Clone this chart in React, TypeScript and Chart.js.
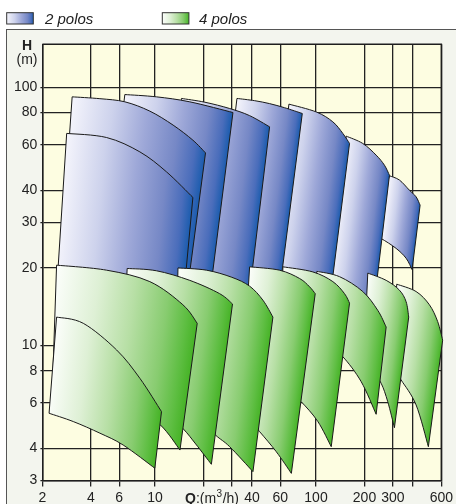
import { useEffect, useRef } from 'react';
import { Chart, registerables } from 'chart.js';

Chart.register(...registerables);

type Pt = [number, number];

const FONT = '"Liberation Sans", Arial, Helvetica, sans-serif';

const xTickValues = [2, 4, 6, 10, 20, 30, 40, 60, 100, 200, 300, 400, 600];
const xTickLabels = [2, 4, 6, 10, 40, 60, 100, 200, 300, 600];
const yTickValues = [3, 4, 6, 8, 10, 20, 30, 40, 60, 80, 100];
const legendLabels = ['2 polos', '4 polos'];
const axisTitleY = ['H', '(m)'];

// 2 polos: upper (max impeller) curves, Q (m3/h), H (m)
const twoPoleTop: Pt[][] = [
  [[2.83, 66.4], [5.01, 64.0], [8.06, 56.3], [11.8, 47.1], [17.2, 37.5]],
  [[3.06, 92.0], [4.55, 90.5], [6.5, 88.0], [9.29, 81.0], [12.96, 71.5], [17.2, 62.5], [20.6, 55.8]],
  [[6.5, 93.9], [10.2, 92.0], [16.45, 88.0], [30.5, 80.0]],
  [[14.6, 90.7], [20.4, 87.7], [29.1, 82.9], [38.7, 77.8], [51.5, 70.4]],
  [[32.3, 90.7], [41.6, 88.9], [51.5, 86.6], [63.8, 83.5], [82.2, 79.3]],
  [[67.9, 86.2], [100.4, 80.4], [127.2, 73.6], [146.7, 66.4], [161.5, 60.7]],
  [[154, 64.8], [195.2, 60.7], [236.3, 54.7], [266.1, 50.0], [285.8, 45.7]],
  [[285.8, 45.5], [329.6, 43.8], [380.2, 40.0], [418.4, 37.7], [443, 35.0]],
];
// 2 polos: lower curves (right to left)
const twoPoleBottom: Pt[][] = [
  [[15.0, 15.0], [2.43, 15.0]],
  [[15.6, 15.0], [2.5, 15.0]],
  [[21.7, 15.0], [4.57, 15.0]],
  [[38.2, 15.0], [10.3, 15.0]],
  [[58.4, 15.0], [22.9, 15.0]],
  [[121.9, 15.0], [48.5, 15.0]],
  [[231.0, 15.0], [116.3, 15.0]],
  [[395.2, 19.7], [362.6, 21.8], [314.5, 23.8], [253.8, 26.0], [221.0, 27.0]],
];

// 4 polos: upper curves
const fourPoleTop: Pt[][] = [
  [[2.45, 12.9], [3.59, 12.2], [5.78, 9.62], [8.06, 7.47], [10.98, 5.55]],
  [[2.45, 20.5], [5.01, 19.6], [9.29, 17.7], [14.9, 14.4], [18.3, 12.2]],
  [[6.72, 19.9], [10.2, 19.5], [16.45, 17.9], [25.2, 15.9], [30.3, 14.5]],
  [[13.9, 20.0], [20.9, 19.6], [30.0, 18.4], [38.7, 17.0], [46.8, 15.0], [54.0, 12.9]],
  [[38.7, 20.2], [59.4, 19.6], [79.1, 18.2], [91.2, 16.9], [98.9, 15.9]],
  [[62.3, 20.2], [95.6, 19.3], [127.2, 17.7], [150.3, 15.9], [161.5, 14.6]],
  [[101.2, 19.4], [140, 18.5], [195.2, 16.2], [241.8, 13.7], [272.7, 11.8]],
  [[209.7, 19.1], [272.7, 17.9], [329.6, 16.4], [362.6, 14.8], [376.4, 12.9]],
  [[317.2, 17.3], [418.4, 16.2], [505.8, 14.4], [569.3, 12.4], [611.5, 10.5]],
];
// 4 polos: lower curves (right to left)
const fourPoleBottom: Pt[][] = [
  [[9.98, 3.35], [6.35, 4.12], [4.55, 4.58], [3.11, 5.08], [2.2, 5.47]],
  [[14.3, 3.94], [10.8, 4.93], [6.98, 6.0], [3.95, 7.16], [2.33, 8.19]],
  [[22.4, 3.47], [17.9, 4.16], [14.9, 4.78], [10.7, 5.89], [6.23, 7.04]],
  [[40.6, 3.25], [29.1, 4.06], [23.7, 4.51], [17.7, 5.38], [13.3, 6.16]],
  [[70.3, 3.2], [56.7, 3.88], [44.7, 4.64], [37.6, 5.24], [34.1, 5.53]],
  [[124.3, 4.06], [102.7, 5.08], [81.0, 6.06], [68.5, 6.61], [58.6, 6.98]],
  [[236.3, 5.42], [190.8, 7.25], [146.7, 9.06], [117.9, 10.05], [95.2, 10.5]],
  [[306.9, 4.81], [279.0, 6.06], [253.8, 7.15], [224.2, 7.97], [197.2, 8.41]],
  [[498.6, 4.06], [418.4, 5.89], [337.7, 7.36], [298.3, 8.19]],
];

const blueStops: [number, string][] = [
  [0, '#f5f5fc'], [0.3, '#cdd2ec'], [0.55, '#9ea8d8'], [0.78, '#7688c6'], [0.92, '#4a6dbb'], [1, '#1a5cae'],
];
const greenStops: [number, string][] = [
  [0, '#fcfefb'], [0.3, '#def0d5'], [0.55, '#b7dfa5'], [0.78, '#88cc70'], [0.92, '#5ebe42'], [1, '#46b326'],
];

function spline(ctx: CanvasRenderingContext2D, pts: number[][], moveFirst: boolean) {
  const n = pts.length;
  if (moveFirst) ctx.moveTo(pts[0][0], pts[0][1]);
  else ctx.lineTo(pts[0][0], pts[0][1]);
  for (let i = 0; i < n - 1; i++) {
    const p0 = pts[Math.max(i - 1, 0)];
    const p1 = pts[i];
    const p2 = pts[i + 1];
    const p3 = pts[Math.min(i + 2, n - 1)];
    ctx.bezierCurveTo(
      p1[0] + (p2[0] - p0[0]) / 6,
      p1[1] + (p2[1] - p0[1]) / 6,
      p2[0] - (p3[0] - p1[0]) / 6,
      p2[1] - (p3[1] - p1[1]) / 6,
      p2[0],
      p2[1]
    );
  }
}

const pumpPlugin = {
  id: 'pumpShapes',
  beforeDraw(chart: any) {
    const { ctx, chartArea: a } = chart;
    ctx.save();
    ctx.fillStyle = '#fdfde1';
    ctx.fillRect(a.left, a.top, a.right - a.left, a.bottom - a.top);
    ctx.restore();
  },
  beforeDatasetsDraw(chart: any) {
    const { ctx, chartArea: a } = chart;
    ctx.save();
    ctx.strokeStyle = '#1e1e1e';
    ctx.lineWidth = 1.5;
    ctx.beginPath();
    ctx.moveTo(a.left, a.top);
    ctx.lineTo(a.right, a.top);
    ctx.lineTo(a.right, a.bottom);
    ctx.stroke();
    ctx.restore();
  },
  afterDatasetsDraw(chart: any) {
    const { ctx } = chart;
    const xs = chart.scales.x;
    const ys = chart.scales.y;
    const toPx = (p: Pt) => [xs.getPixelForValue(p[0]), ys.getPixelForValue(p[1])];
    const drawFamily = (tops: Pt[][], bottoms: Pt[][], stops: [number, string][]) => {
      for (let i = tops.length - 1; i >= 0; i--) {
        const top = tops[i].map(toPx);
        const bot = bottoms[i].map(toPx);
        const lt = top[0];
        const rt = top[top.length - 1];
        const rb = bot[0];
        // slant of the right edge: colour stays constant along lines parallel to it
        const k = (rb[0] - rt[0]) / (rb[1] - rt[1]);
        const y0 = rt[1];
        const gx0 = lt[0] - k * (lt[1] - y0);
        const gx1 = rt[0];
        const base = ctx.getTransform();
        ctx.save();
        ctx.beginPath();
        spline(ctx, top, true);
        spline(ctx, bot, false);
        ctx.closePath();
        const g = ctx.createLinearGradient(gx0, 0, gx1, 0);
        stops.forEach(([o, c]) => g.addColorStop(o, c));
        ctx.setTransform(base.multiply(new DOMMatrix([1, 0, k, 1, -k * y0, 0])));
        ctx.fillStyle = g;
        ctx.fill();
        ctx.setTransform(base);
        ctx.lineWidth = 1;
        ctx.lineJoin = 'miter';
        ctx.strokeStyle = '#1a1a1a';
        ctx.stroke();
        ctx.restore();
      }
    };
    drawFamily(twoPoleTop, twoPoleBottom, blueStops);
    drawFamily(fourPoleTop, fourPoleBottom, greenStops);
  },
  afterDraw(chart: any) {
    const { ctx } = chart;
    ctx.save();
    ctx.fillStyle = '#222';
    // Y axis title
    ctx.textAlign = 'center';
    ctx.textBaseline = 'alphabetic';
    ctx.font = `bold 14px ${FONT}`;
    ctx.fillText(axisTitleY[0], 27, 50);
    ctx.font = `14px ${FONT}`;
    ctx.fillText(axisTitleY[1], 27, 63.5);
    // X axis title Q:(m3/h)
    ctx.textAlign = 'left';
    let x = 185;
    const base = 503.3;
    ctx.font = `bold 14px ${FONT}`;
    ctx.fillText('Q', x, base);
    x += ctx.measureText('Q').width;
    ctx.font = `14px ${FONT}`;
    ctx.fillText(':(m', x, base);
    x += ctx.measureText(':(m').width;
    ctx.font = `10px ${FONT}`;
    ctx.fillText('3', x + 0.5, base - 6);
    x += ctx.measureText('3').width + 1;
    ctx.font = `14px ${FONT}`;
    ctx.fillText('/h)', x, base);
    // Legend
    const boxes = [
      { x: 6.7, tx: 45, stops: blueStops },
      { x: 162.3, tx: 199, stops: greenStops },
    ];
    boxes.forEach((b, i) => {
      const g = ctx.createLinearGradient(b.x, 0, b.x + 26.6, 0);
      b.stops.forEach(([o, c]) => g.addColorStop(o, c));
      ctx.fillStyle = g;
      ctx.fillRect(b.x, 12.7, 26.6, 11.3);
      ctx.strokeStyle = '#333';
      ctx.lineWidth = 1;
      ctx.strokeRect(b.x, 12.7, 26.6, 11.3);
      ctx.fillStyle = '#222';
      ctx.font = `italic 15px ${FONT}`;
      ctx.textAlign = 'left';
      ctx.fillText(legendLabels[i], b.tx, 24.3);
    });
    ctx.restore();
  },
};

export default function App() {
  const ref = useRef<HTMLCanvasElement | null>(null);
  useEffect(() => {
    if (!ref.current) return;
    const chart = new Chart(ref.current, {
      type: 'scatter',
      data: { datasets: [] },
      options: {
        animation: false,
        responsive: false,
        events: [],
        layout: { padding: { left: 0, top: 44.3, right: 14, bottom: 0 } },
        plugins: { legend: { display: false }, tooltip: { enabled: false } },
        scales: {
          x: {
            type: 'logarithmic',
            min: 2,
            max: 600,
            afterBuildTicks: (s: any) => {
              s.ticks = xTickValues.map((v) => ({ value: v }));
            },
            afterFit: (s: any) => {
              s.height = 23.4;
            },
            ticks: {
              autoSkip: false,
              maxRotation: 0,
              padding: 3,
              color: '#222',
              font: { family: FONT, size: 14 },
              callback: (v: any) => (xTickLabels.includes(Number(v)) ? String(v) : ''),
            },
            grid: { color: '#222', lineWidth: 1.3, tickLength: 6, tickColor: '#222' },
            border: { display: true, color: '#1e1e1e', width: 1.5 },
          },
          y: {
            type: 'logarithmic',
            min: 3,
            max: 147,
            afterBuildTicks: (s: any) => {
              s.ticks = yTickValues.map((v) => ({ value: v }));
            },
            afterFit: (s: any) => {
              s.width = 42.4;
            },
            ticks: {
              autoSkip: false,
              padding: 3,
              color: '#222',
              font: { family: FONT, size: 14 },
              callback: (v: any) => String(v),
            },
            grid: { color: '#222', lineWidth: 1.3, tickLength: 2, tickColor: '#222' },
            border: { display: true, color: '#1e1e1e', width: 1.5 },
          },
        },
      },
      plugins: [pumpPlugin],
    } as any);
    return () => chart.destroy();
  }, []);

  return (
    <div style={{ position: 'absolute', left: 0, top: 0, width: 456, height: 504, background: '#ffffff', overflow: 'hidden' }}>
      <div
        style={{
          position: 'absolute',
          left: 6,
          top: 29,
          width: 450,
          height: 475,
          background: '#f3f5ee',
          borderTop: '1.5px solid #555',
          borderLeft: '1.5px solid #555',
        }}
      />
      <canvas ref={ref} width={456} height={504} style={{ position: 'absolute', left: 0, top: 0, width: 456, height: 504 }} />
    </div>
  );
}
